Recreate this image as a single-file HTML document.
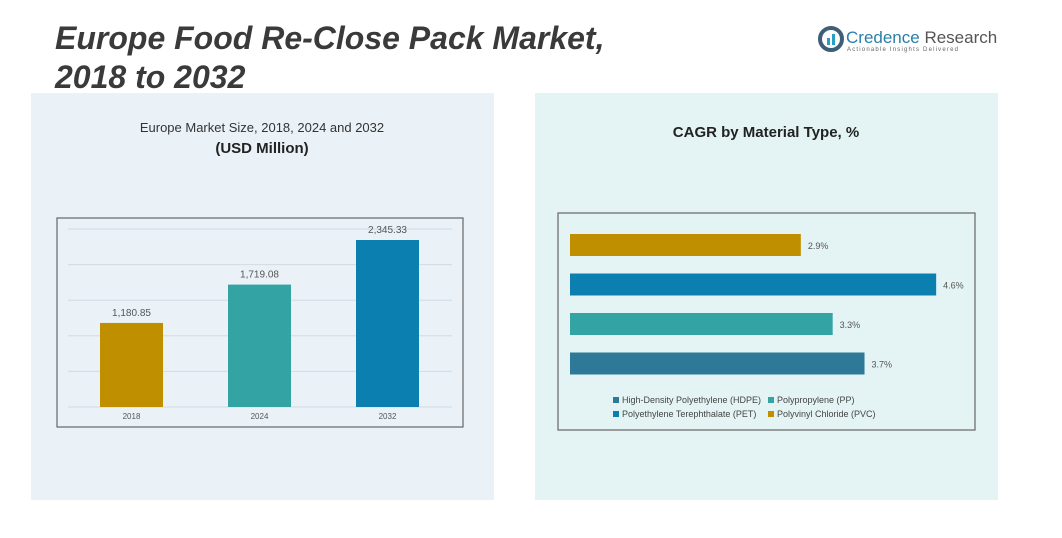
<!DOCTYPE html>
<html><head><meta charset="utf-8">
<style>
body{margin:0;width:1062px;height:538px;background:#fff;font-family:"Liberation Sans",sans-serif;position:relative;overflow:hidden}
.t{position:absolute;left:55px;top:19px;font-size:32px;font-weight:bold;font-style:italic;color:#3a3a3a;line-height:39px}
</style></head><body>
<div class="t">Europe Food Re-Close Pack Market,<br>2018 to 2032</div>
<div style="position:absolute;left:818px;top:26px;">
<svg width="26" height="26"><circle cx="13" cy="13" r="11" fill="none" stroke="#3e5f78" stroke-width="4"/><rect x="9" y="12" width="3" height="7" fill="#2a9fc4"/><rect x="14" y="8" width="3" height="11" fill="#2a9fc4"/></svg>
<span style="position:absolute;left:28px;top:2px;font-size:17px;color:#2a7fa8;white-space:nowrap">Credence <span style="color:#555">Research</span></span>
<span style="position:absolute;left:29px;top:21px;font-size:6px;letter-spacing:1.2px;color:#666;white-space:nowrap">Actionable Insights Delivered</span>
</div>
<svg id="c" width="1062" height="538" style="position:absolute;left:0;top:0">
<rect x="31" y="93" width="463" height="407" fill="#eaf2f8"/>
<rect x="535" y="93" width="463" height="407" fill="#e4f4f4"/>
<text x="262" y="132" font-size="13" text-anchor="middle" fill="#333">Europe Market Size, 2018, 2024 and 2032</text>
<text x="262" y="153" font-size="15" font-weight="bold" text-anchor="middle" fill="#222">(USD Million)</text>
<text x="766" y="137" font-size="15" font-weight="bold" text-anchor="middle" fill="#222">CAGR by Material Type, %</text>
<rect x="57" y="218" width="406" height="209" fill="none" stroke="#666" stroke-width="1.2"/>
<rect x="558" y="213" width="417" height="217" fill="none" stroke="#666" stroke-width="1.2"/>
<g id="L"></g><g id="R"></g>
</svg>
<script>
const years=["2018","2024","2032"];
const sizes=[1180.85,1719.08,2345.33];
const sizeLabels=["1,180.85","1,719.08","2,345.33"];
const materials=["PVC","PET","PP","HDPE"];
const cagr=[2.9,4.6,3.3,3.7];
const legendNames=["High-Density Polyethylene (HDPE)","Polypropylene (PP)","Polyethylene Terephthalate (PET)","Polyvinyl Chloride (PVC)"];
const NS="http://www.w3.org/2000/svg";
function mk(p,t,a){const e=document.createElementNS(NS,t);for(const k in a)e.setAttribute(k,a[k]);p.appendChild(e);return e;}
const L=document.getElementById('L'),R=document.getElementById('R');
const base=407,yS=v=>base-v*0.0712;
for(let i=0;i<6;i++){const g=mk(L,'line',{x1:68,x2:452,y1:base-i*35.6,y2:base-i*35.6,stroke:'#d3dbe2','stroke-width':1});

}
const lc=["#c08f00","#34a3a3","#0a7fb0"];
years.forEach((y,i)=>{const x=100+i*128;
const b=mk(L,'rect',{x:x,y:yS(sizes[i]),width:63,height:base-yS(sizes[i]),fill:lc[i]});


const t=mk(L,'text',{x:x+31.5,y:yS(sizes[i])-7,'font-size':10,'text-anchor':'middle',fill:'#555'});t.textContent=sizeLabels[i];


const a=mk(L,'text',{x:x+31.5,y:419,'font-size':8,'text-anchor':'middle',fill:'#555'});a.textContent=y;

});
const rc=["#c08f00","#0a7fb0","#34a3a3","#2e7898"];
const x0=570,xS=v=>x0+v*79.6;
materials.forEach((m,i)=>{const y=234+i*39.5;
const b=mk(R,'rect',{x:x0,y:y,width:xS(cagr[i])-x0,height:22,fill:rc[i]});


const t=mk(R,'text',{x:xS(cagr[i])+7,y:y+15,'font-size':9,fill:'#555'});t.textContent=cagr[i]+'%';

});
const lgc=["#2e7898","#34a3a3","#0a7fb0","#c08f00"];
const lx=[613,768,613,768],ly=[403,403,417,417];
legendNames.forEach((n,i)=>{const r=mk(R,'rect',{x:lx[i],y:ly[i]-6,width:6,height:6,fill:lgc[i]});


const t=mk(R,'text',{x:lx[i]+9,y:ly[i],'font-size':9,fill:'#444'});t.textContent=n;

});
</script>
</body></html>
